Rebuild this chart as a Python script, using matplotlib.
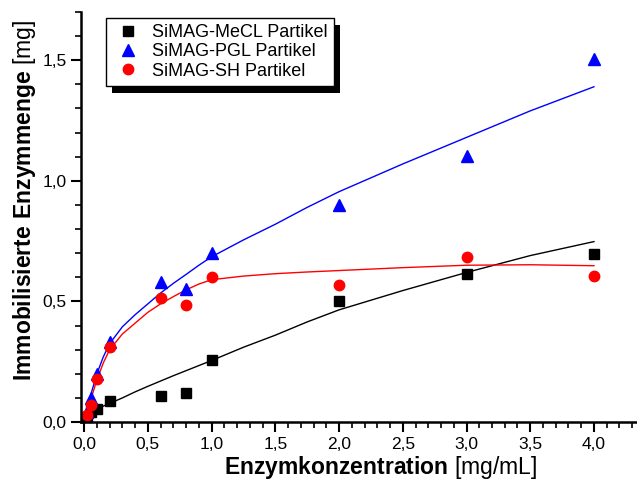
import matplotlib
matplotlib.use("Agg")
import matplotlib.pyplot as plt
from matplotlib.patches import Rectangle
from matplotlib.ticker import MultipleLocator, FuncFormatter

plt.rcParams['font.family'] = ['Liberation Sans', 'DejaVu Sans']
plt.rcParams['mathtext.fontset'] = 'custom'
plt.rcParams['mathtext.rm'] = 'Liberation Sans'
plt.rcParams['mathtext.bf'] = 'Liberation Sans:bold'

# Messpunkte
konz = [0.02, 0.05, 0.1, 0.2, 0.6, 0.8, 1.0, 2.0, 3.0, 4.0]
mecl = [0.02, 0.04, 0.054, 0.087, 0.108, 0.12, 0.258, 0.503, 0.615, 0.698]
pgl = [0.04, 0.10, 0.20, 0.33, 0.58, 0.553, 0.70, 0.90, 1.105, 1.505]
sh = [0.03, 0.07, 0.18, 0.31, 0.515, 0.487, 0.603, 0.569, 0.686, 0.607]

# Fitkurven
fit_x = [0.02, 0.05, 0.1, 0.15, 0.2, 0.3, 0.4, 0.5, 0.6, 0.7, 0.8, 0.9, 1.0,
         1.25, 1.5, 1.75, 2.0, 2.5, 3.0, 3.5, 4.0]
fit_mecl = [0.035, 0.045, 0.055, 0.066, 0.077, 0.10, 0.125, 0.148, 0.17, 0.192, 0.213, 0.234, 0.255,
            0.31, 0.36, 0.415, 0.465, 0.545, 0.62, 0.69, 0.748]
fit_pgl = [0.045, 0.11, 0.20, 0.27, 0.325, 0.395, 0.445, 0.49, 0.535, 0.575, 0.612, 0.65, 0.685,
           0.755, 0.82, 0.89, 0.955, 1.07, 1.18, 1.29, 1.39]
fit_sh = [0.03, 0.09, 0.175, 0.245, 0.30, 0.365, 0.41, 0.455, 0.49, 0.52, 0.548, 0.572, 0.59,
          0.605, 0.615, 0.622, 0.628, 0.64, 0.65, 0.652, 0.648]

fig = plt.figure(figsize=(6.37, 4.83), dpi=100)
ax = fig.add_axes([81/637, 61/483, 555/637, 410/483])

ax.plot(fit_x, fit_mecl, color='black', lw=1)
ax.plot(fit_x, fit_pgl, color='#0000ff', lw=1)
ax.plot(fit_x, fit_sh, color='#ff0000', lw=1)

ax.plot(konz, mecl, 's', color='black', ms=7, label='SiMAG-MeCL Partikel', clip_on=False)
ax.plot(konz, pgl, '^', color='#0000ff', ms=8, label='SiMAG-PGL Partikel', clip_on=False)
ax.plot(konz, sh, 'o', color='#ff0000', ms=7.5, label='SiMAG-SH Partikel', clip_on=False)

ax.set_xlim(-0.025, 4.33)
ax.set_ylim(0, 1.70)

for s in ['top', 'right']:
    ax.spines[s].set_visible(False)
for s in ['left', 'bottom']:
    ax.spines[s].set_linewidth(1.8)

komma = FuncFormatter(lambda v, p: f"{v:.1f}".replace('.', ','))
ax.xaxis.set_major_locator(MultipleLocator(0.5))
ax.xaxis.set_minor_locator(MultipleLocator(0.1))
ax.yaxis.set_major_locator(MultipleLocator(0.5))
ax.yaxis.set_minor_locator(MultipleLocator(0.1))
ax.xaxis.set_major_formatter(komma)
ax.yaxis.set_major_formatter(komma)
ax.tick_params(which='major', direction='out', length=7, width=1.5, labelsize=12.5)
ax.tick_params(which='minor', direction='out', length=4, width=1.2)

ax.set_xlabel(r"$\bf{Enzymkonzentration}$ [mg/mL]", fontsize=16.5, labelpad=2)
ax.set_ylabel(r"$\bf{Immobilisierte\ Enzymmenge}$ [mg]", fontsize=16.5, labelpad=3)
ax.xaxis.label.set_x(0.539)
ax.yaxis.label.set_y(0.541)

leg = ax.legend(loc='upper left', bbox_to_anchor=(106/637, 1 - 18/483),
                bbox_transform=fig.transFigure, borderaxespad=0,
                fancybox=False, framealpha=1, edgecolor='black',
                fontsize=13, handletextpad=0.47, labelspacing=0.12,
                borderpad=0.35, handlelength=1.73)
leg.get_frame().set_linewidth(1)

# Schatten hinter der Legende
fig.canvas.draw()
bb = leg.get_window_extent()
schatten = Rectangle((bb.x0 + 6, bb.y0 - 7), bb.width, bb.height,
                     transform=None, facecolor='black', edgecolor='none',
                     zorder=4.9, clip_on=False)
ax.add_artist(schatten)
leg.set_zorder(5)

fig.savefig("out.png", dpi=100)
